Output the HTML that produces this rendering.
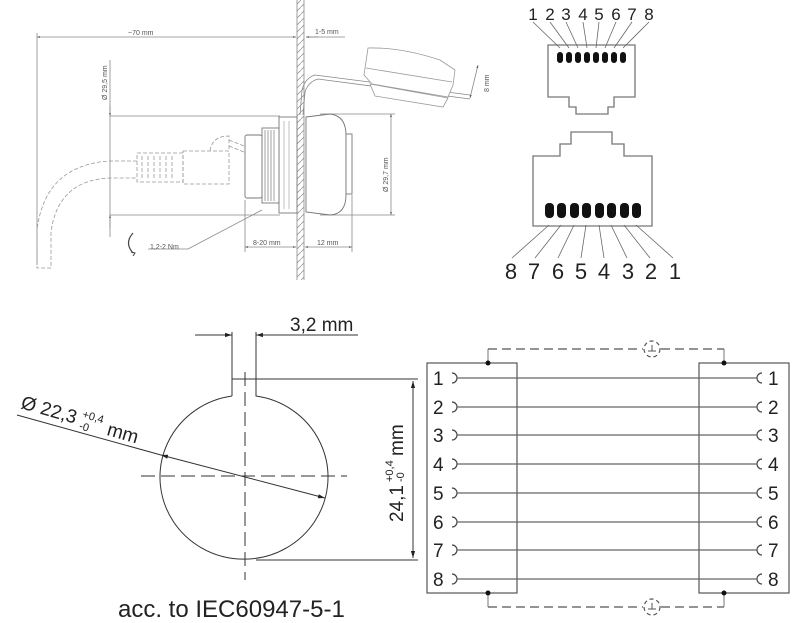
<!DOCTYPE html>
<html><head><meta charset="utf-8"><style>
html,body{margin:0;padding:0;background:#fff;}
svg{display:block;}
</style></head><body>
<svg width="800" height="623" viewBox="0 0 800 623" xmlns="http://www.w3.org/2000/svg" font-family="Liberation Sans, sans-serif">
<defs>
<marker id="a" viewBox="0 0 10 10" refX="10" refY="5" markerWidth="7" markerHeight="7" orient="auto-start-reverse"><path d="M0,2 L10,5 L0,8z" fill="#222"/></marker>
<marker id="s" viewBox="0 0 10 10" refX="10" refY="5" markerWidth="4" markerHeight="4" orient="auto-start-reverse"><path d="M0,2 L10,5 L0,8z" fill="#555"/></marker>
<pattern id="h" width="7" height="7" patternUnits="userSpaceOnUse"><path d="M0,7 L7,0" stroke="#999" stroke-width="0.8"/></pattern>
</defs>

<g stroke="#888" stroke-width="0.8" fill="none">
<rect x="297" y="0" width="7" height="280" fill="url(#h)" stroke="none"/>
<line x1="297" y1="0" x2="297" y2="280"/><line x1="304" y1="0" x2="304" y2="280"/>
<line x1="37" y1="37" x2="296" y2="37" marker-start="url(#s)" marker-end="url(#s)"/>
<line x1="37" y1="33" x2="37" y2="265"/>
<line x1="306" y1="37" x2="345" y2="37"/>
<line x1="318" y1="37" x2="306" y2="37" marker-end="url(#s)"/>
<line x1="110" y1="60" x2="110" y2="237"/>
<line x1="110" y1="116" x2="280" y2="116"/><line x1="110" y1="215" x2="280" y2="215"/>
<line x1="110" y1="105" x2="110" y2="116" marker-end="url(#s)"/>
<line x1="110" y1="228" x2="110" y2="215" marker-end="url(#s)"/>
<line x1="320" y1="114" x2="395" y2="114"/><line x1="320" y1="215" x2="395" y2="215"/>
<line x1="391" y1="114" x2="391" y2="215" marker-start="url(#s)" marker-end="url(#s)"/>
<line x1="245" y1="200" x2="245" y2="252"/><line x1="352" y1="195" x2="352" y2="252"/>
<line x1="245" y1="247" x2="296" y2="247" marker-start="url(#s)" marker-end="url(#s)"/>
<line x1="305" y1="247" x2="352" y2="247" marker-start="url(#s)" marker-end="url(#s)"/>
<polyline points="148,249 188,249 262,210"/>
</g>
<g stroke="#777" stroke-width="0.9" fill="#fff">
<path d="M306,117 L330,114 Q346,116 346,135 L346,195 Q346,214 330,215 L306,212Z"/>
<rect x="346" y="134" width="6" height="60"/>
<rect x="279" y="117" width="18" height="96"/>
<path d="M284,121 L284,209 M289,121 L289,209" stroke="#bbb"/>
<rect x="262" y="128" width="17" height="75"/>
<path d="M265,130 L265,201 M268,130 L268,201 M271,130 L271,201 M274,130 L274,201" stroke="#999"/>
<rect x="245" y="135" width="17" height="63" rx="2"/>
</g>
<g stroke="#888" stroke-width="0.8" fill="none">
<path d="M300,115 L302,90 Q305,78 315,75 L470,95"/>
<path d="M303,115 L305,92 Q308,82 318,79 L470,99"/>
<path d="M368,48 Q400,47 440,60 L455,70 L453,85 L448,97 L372,84 L364,75Z" fill="#fff" stroke="#999"/>
<path d="M366,68 L452,82" stroke="#999"/>
<path d="M370,84 L448,98 L443,107 L375,96Z" fill="#fff" stroke="#999"/>
<line x1="478" y1="65" x2="470" y2="98" marker-start="url(#s)" marker-end="url(#s)"/>
</g>
<g stroke="#999" stroke-width="0.8" fill="none" stroke-dasharray="4,2">
<rect x="137" y="153" width="46" height="29"/>
<rect x="183" y="151" width="46" height="33"/>
<path d="M210,151 Q212,136 229,136 L229,151"/>
<path d="M229,140 L244,146 M229,146 L244,152"/>
<path d="M137,161 L110,161 Q45,165 37,230 L37,268 L51,268 L51,232 Q58,180 110,178 L137,178"/>
<path d="M142,156 L142,180 M148,156 L148,180 M154,156 L154,180 M160,156 L160,180 M166,156 L166,180 M172,156 L172,180"/>
</g>
<g font-size="7" fill="#555">
<text x="128" y="35">~70 mm</text>
<text x="315" y="34">1-5 mm</text>
<text x="150" y="249">1,2-2 Nm</text>
<text x="253" y="245">8-20 mm</text>
<text x="317" y="245">12 mm</text>
<text transform="translate(107,100) rotate(-90)">Ø 29,5 mm</text>
<text transform="translate(388,192) rotate(-90)">Ø 29,7 mm</text>
<text transform="translate(489,92) rotate(-90)">8 mm</text>
</g>
<path d="M133,233 Q124,243 133,253" stroke="#444" stroke-width="1.2" fill="none"/>
<path d="M131,252 l4,1 l-2,3" stroke="#444" fill="none"/>

<g stroke="#777" stroke-width="1.3" fill="none">
<path d="M548,45 L635,45 L635,97 L614,97 L614,107 L608,107 L608,114 L576,114 L576,107 L569,107 L569,97 L548,97Z"/>
<path d="M533,226 L533,156 L560,156 L560,144 L571,144 L571,132 L612,132 L612,144 L624,144 L624,156 L652,156 L652,226Z"/>
</g>
<g fill="#111">
<rect x="557" y="52" width="6" height="11" rx="3"/><rect x="566" y="52" width="6" height="11" rx="3"/>
<rect x="575" y="52" width="6" height="11" rx="3"/><rect x="584" y="52" width="6" height="11" rx="3"/>
<rect x="593" y="52" width="6" height="11" rx="3"/><rect x="602" y="52" width="6" height="11" rx="3"/>
<rect x="611" y="52" width="6" height="11" rx="3"/><rect x="620" y="52" width="6" height="11" rx="3"/>
<rect x="545" y="203" width="9" height="15" rx="4"/><rect x="557" y="203" width="9" height="15" rx="4"/>
<rect x="570" y="203" width="9" height="15" rx="4"/><rect x="582" y="203" width="9" height="15" rx="4"/>
<rect x="595" y="203" width="9" height="15" rx="4"/><rect x="607" y="203" width="9" height="15" rx="4"/>
<rect x="620" y="203" width="9" height="15" rx="4"/><rect x="632" y="203" width="9" height="15" rx="4"/>
</g>
<g stroke="#666" stroke-width="0.8" fill="none">
<path d="M533,22 L560,48 M550,22 L569,48 M566,22 L578,48 M583,22 L587,48 M599,22 L596,48 M616,22 L605,48 M632,22 L614,48 M649,22 L623,48"/>
<path d="M549,225 L512,258 M561,225 L535,258 M574,225 L558,258 M586,225 L581,258 M599,225 L604,258 M611,225 L627,258 M624,225 L650,258 M636,225 L673,258"/>
</g>
<g font-size="17" fill="#222" text-anchor="middle">
<text x="533" y="20">1</text><text x="550" y="20">2</text><text x="566" y="20">3</text><text x="583" y="20">4</text>
<text x="599" y="20">5</text><text x="616" y="20">6</text><text x="632" y="20">7</text><text x="649" y="20">8</text>
</g>
<g font-size="22" fill="#222" text-anchor="middle">
<text x="511" y="279">8</text><text x="534" y="279">7</text><text x="558" y="279">6</text><text x="581" y="279">5</text>
<text x="604" y="279">4</text><text x="628" y="279">3</text><text x="651" y="279">2</text><text x="675" y="279">1</text>
</g>

<g stroke="#333" stroke-width="1" fill="none">
<path d="M232,396 L232,379 L256,379 L256,396 A84,82 0 1 1 232,396"/>
<line x1="256" y1="379" x2="418" y2="379"/>
<line x1="256" y1="560" x2="418" y2="560"/>
<line x1="413" y1="381" x2="413" y2="558" marker-start="url(#a)" marker-end="url(#a)"/>
<line x1="232" y1="332" x2="232" y2="379"/><line x1="256" y1="332" x2="256" y2="379"/>
<line x1="195" y1="335" x2="232" y2="335" marker-end="url(#a)"/>
<line x1="290" y1="335" x2="256" y2="335" marker-end="url(#a)"/>
<line x1="256" y1="335" x2="358" y2="335"/>
<line x1="17" y1="415" x2="161" y2="455"/>
<line x1="161" y1="455" x2="325" y2="498" marker-start="url(#a)" marker-end="url(#a)"/>
<line x1="141" y1="476" x2="347" y2="476" stroke-dasharray="14,6"/>
<line x1="245" y1="372" x2="245" y2="580" stroke-dasharray="14,6"/>
</g>
<text x="290" y="331" font-size="19" fill="#222">3,2 mm</text>
<g transform="translate(20,408) rotate(16)" fill="#222">
<text x="0" y="0" font-size="19">Ø 22,3</text>
<text x="62" y="-8" font-size="11">+0,4</text>
<text x="62" y="4" font-size="11">-0</text>
<text x="90" y="2" font-size="19">mm</text>
</g>
<g transform="translate(403,522) rotate(-90)" fill="#222">
<text x="0" y="0" font-size="19">24,1</text>
<text x="40" y="-10" font-size="11">+0,4</text>
<text x="40" y="1" font-size="11">-0</text>
<text x="66" y="0" font-size="19">mm</text>
</g>
<text x="118" y="617" font-size="24" fill="#222">acc. to IEC60947-5-1</text>

<g stroke="#555" stroke-width="1.2" fill="none">
<rect x="427" y="363" width="90" height="230"/>
<rect x="699" y="363" width="90" height="230"/>
<path d="M488,349 L488,363 M724,349 L724,363 M488,593 L488,607 M724,593 L724,607" stroke-width="0.8"/>
<path d="M488,349 L643,349 M661,349 L724,349 M488,607 L643,607 M661,607 L724,607" stroke-dasharray="9,5"/>
<circle cx="652" cy="349" r="8" stroke-dasharray="4,3"/>
<circle cx="652" cy="607" r="8" stroke-dasharray="4,3"/>
<path d="M648,351 L656,351 M652,351 L652,345 M648,609 L656,609 M652,609 L652,603" stroke-width="1"/>
</g>
<g fill="#111"><circle cx="488" cy="363" r="2.5"/><circle cx="724" cy="363" r="2.5"/><circle cx="488" cy="593" r="2.5"/><circle cx="724" cy="593" r="2.5"/></g>
<g stroke="#444" stroke-width="1.2" fill="none">
<path d="M452,373 a5,5 0 0 1 0,10 M452,402 a5,5 0 0 1 0,10 M452,430 a5,5 0 0 1 0,10 M452,459 a5,5 0 0 1 0,10 M452,488 a5,5 0 0 1 0,10 M452,517 a5,5 0 0 1 0,10 M452,545 a5,5 0 0 1 0,10 M452,574 a5,5 0 0 1 0,10"/>
<path d="M762,373 a5,5 0 0 0 0,10 M762,402 a5,5 0 0 0 0,10 M762,430 a5,5 0 0 0 0,10 M762,459 a5,5 0 0 0 0,10 M762,488 a5,5 0 0 0 0,10 M762,517 a5,5 0 0 0 0,10 M762,545 a5,5 0 0 0 0,10 M762,574 a5,5 0 0 0 0,10"/>
<path d="M457,378 L757,378 M457,407 L757,407 M457,435 L757,435 M457,464 L757,464 M457,493 L757,493 M457,522 L757,522 M457,550 L757,550 M457,579 L757,579" stroke="#666"/>
</g>
<g font-size="19" fill="#222">
<text x="433" y="385">1</text><text x="433" y="414">2</text><text x="433" y="442">3</text><text x="433" y="471">4</text>
<text x="433" y="500">5</text><text x="433" y="529">6</text><text x="433" y="557">7</text><text x="433" y="586">8</text>
<text x="768" y="385">1</text><text x="768" y="414">2</text><text x="768" y="442">3</text><text x="768" y="471">4</text>
<text x="768" y="500">5</text><text x="768" y="529">6</text><text x="768" y="557">7</text><text x="768" y="586">8</text>
</g>
</svg>
</body></html>
